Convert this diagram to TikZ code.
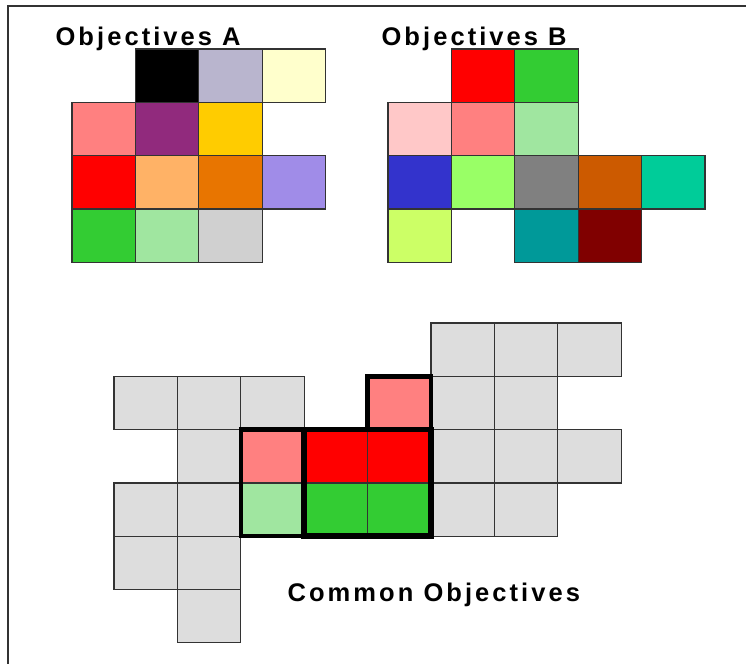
\documentclass[tikz,border=0pt]{standalone}
\usepackage{fontspec}
\setmainfont{Liberation Sans}
\newfontfamily\titlefont[LetterSpace=12]{Liberation Sans}
\definecolor{pinkA}{HTML}{FF8080}
\definecolor{plum}{HTML}{912A7D}
\definecolor{amber}{HTML}{FFCC00}
\definecolor{lavgrey}{HTML}{B9B5CE}
\definecolor{cream}{HTML}{FFFFCC}
\definecolor{apricot}{HTML}{FFB266}
\definecolor{orangeA}{HTML}{E87500}
\definecolor{violetA}{HTML}{A08CE8}
\definecolor{greenA}{HTML}{33CC33}
\definecolor{mint}{HTML}{A0E6A0}
\definecolor{silver}{HTML}{D0D0D0}
\definecolor{blush}{HTML}{FFC8C8}
\definecolor{blueB}{HTML}{3333CC}
\definecolor{lime}{HTML}{99FF66}
\definecolor{greyB}{HTML}{808080}
\definecolor{rust}{HTML}{CC5A00}
\definecolor{aqua}{HTML}{00CC99}
\definecolor{yellowB}{HTML}{CCFF66}
\definecolor{teal}{HTML}{009999}
\definecolor{maroon}{HTML}{800000}
\definecolor{paleg}{HTML}{DDDDDD}
\begin{document}
\begin{tikzpicture}[x=1pt,y=-1pt,line width=1.2pt,
  cell/.style={draw=black!80},
  hl/.style={draw=black,line width=4.5pt},
  title/.style={font=\titlefont\bfseries\fontsize{25.5}{30}\selectfont,anchor=base west,inner sep=0pt}]
\useasboundingbox (0,0) rectangle (746,664);
\draw[line width=2pt,black!80] (746,6) -- (8,6) -- (8,664);
\def\cw{63.4}\def\ch{53.3}
% Objectives A
\foreach \c/\r/\col in {1/0/black,2/0/lavgrey,3/0/cream,
  0/1/pinkA,1/1/plum,2/1/amber,
  0/2/red,1/2/apricot,2/2/orangeA,3/2/violetA,
  0/3/greenA,1/3/mint,2/3/silver}
  \filldraw[cell,fill=\col] (72+\c*\cw,49+\r*\ch) rectangle ++(\cw,\ch);
% Objectives B
\foreach \c/\r/\col in {1/0/red,2/0/greenA,
  0/1/blush,1/1/pinkA,2/1/mint,
  0/2/blueB,1/2/lime,2/2/greyB,3/2/rust,4/2/aqua,
  0/3/yellowB,2/3/teal,3/3/maroon}
  \filldraw[cell,fill=\col] (388+\c*\cw,49+\r*\ch) rectangle ++(\cw,\ch);
% common
\foreach \c/\r/\col in {5/0/paleg,6/0/paleg,7/0/paleg,
  0/1/paleg,1/1/paleg,2/1/paleg,4/1/pinkA,5/1/paleg,6/1/paleg,
  1/2/paleg,2/2/pinkA,3/2/red,4/2/red,5/2/paleg,6/2/paleg,7/2/paleg,
  0/3/paleg,1/3/paleg,2/3/mint,3/3/greenA,4/3/greenA,5/3/paleg,6/3/paleg,
  0/4/paleg,1/4/paleg,1/5/paleg}
  \filldraw[cell,fill=\col] (114+\c*\cw,323+\r*\ch) rectangle ++(\cw,\ch);
\draw[hl] (114+4*\cw,323+\ch) rectangle ++(\cw,\ch);
\draw[hl] (114+2*\cw,323+2*\ch) rectangle ++(\cw,2*\ch);
\draw[hl,line width=5.5pt] (114+3*\cw,323+2*\ch) rectangle ++(2*\cw,2*\ch);
\node[title] (titleA) at (55,45) {Objectives A};
\node[title] (titleB) at (381,45) {Objectives B};
\node[title] (common) at (287,601) {Common Objectives};
\end{tikzpicture}
\end{document}
